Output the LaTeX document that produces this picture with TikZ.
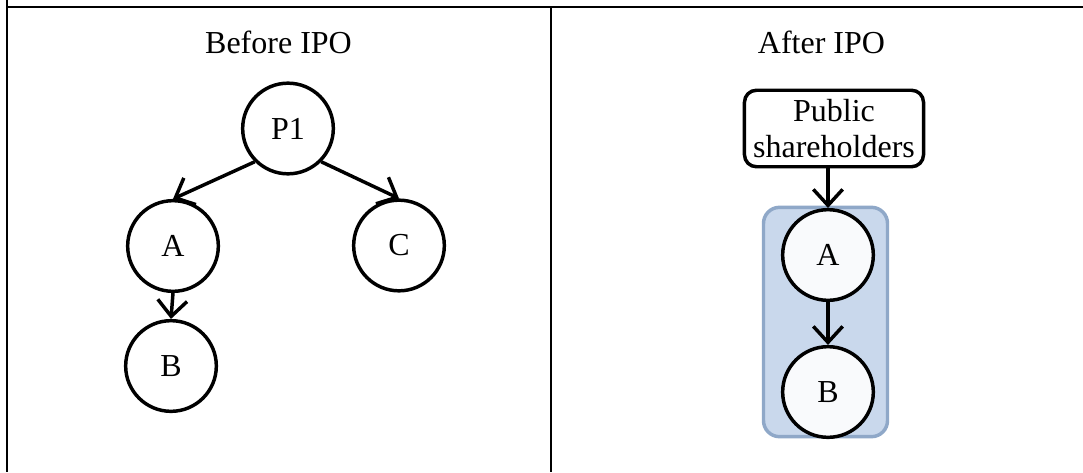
\documentclass[tikz,border=0pt]{standalone}
\usepackage{fontspec}
\setmainfont{Liberation Serif}
\usetikzlibrary{arrows.meta}

\tikzset{every picture/.style={line width=2.1pt}}
\tikzset{
  entity/.style={circle, draw, line width=2.6pt, minimum size=68pt, inner sep=0pt,
    font=\fontsize{24}{26}\selectfont},
  holder/.style={rectangle, draw, line width=2.6pt, rounded corners=9pt, align=center,
    inner xsep=6.5pt, inner ysep=7pt, font=\fontsize{24}{26.5}\selectfont},
  group/.style={rectangle, draw={rgb, 255:red, 143; green, 168; blue, 200}, line width=2.6pt,
    fill={rgb, 255:red, 201; green, 216; blue, 236}, rounded corners=12pt, inner sep=0pt},
  title/.style={inner sep=0.75pt, font=\fontsize{24}{26}\selectfont},
  own/.style={draw, line width=2.6pt, -{Straight Barb[length=12pt,width=22pt]}}
}

\begin{document}
\begin{tikzpicture}[x=0.75pt,y=0.75pt,yscale=-1,xscale=1]
\path[use as bounding box] (0,0) rectangle (1083,472);

%Straight Lines (table)
\draw    (7,0) -- (7,472) ;
\draw    (7,7) -- (1083,7) ;
\draw    (551,7) -- (551,472) ;

% Text Node
\node[title, anchor=base] (before) at (278.5,53) {Before IPO};
% Text Node
\node[title, anchor=base] (after) at (821.5,53) {After IPO};

%Shape: Circle
\node[entity] (p1) at (288,128.5) {P1};
%Shape: Circle
\node[entity] (a) at (173,246) {A};
%Shape: Circle
\node[entity] (c) at (399,245.5) {C};
%Shape: Circle
\node[entity] (b) at (171,366) {B};

\draw[own] (p1.-135) -- (a.north);
\draw[own] (p1.-45) -- (c.north);
\draw[own] (a.south) -- (b.north);

%Shape: Rounded Rect
\node[group, minimum width=93pt, minimum height=172pt] (listed) at (825.5,322) {};
%Shape: Rounded Rect
\node[holder] (public) at (834,128.5) {Public\\shareholders};
%Shape: Circle
\node[entity, fill={rgb, 255:red, 249; green, 250; blue, 252}] (a2) at (828,255) {A};
%Shape: Circle
\node[entity, fill={rgb, 255:red, 249; green, 250; blue, 252}] (b2) at (828,392) {B};

\draw[own] (public.south -| a2.north) -- (a2.north);
\draw[own] (a2.south) -- (b2.north);

\end{tikzpicture}
\end{document}
